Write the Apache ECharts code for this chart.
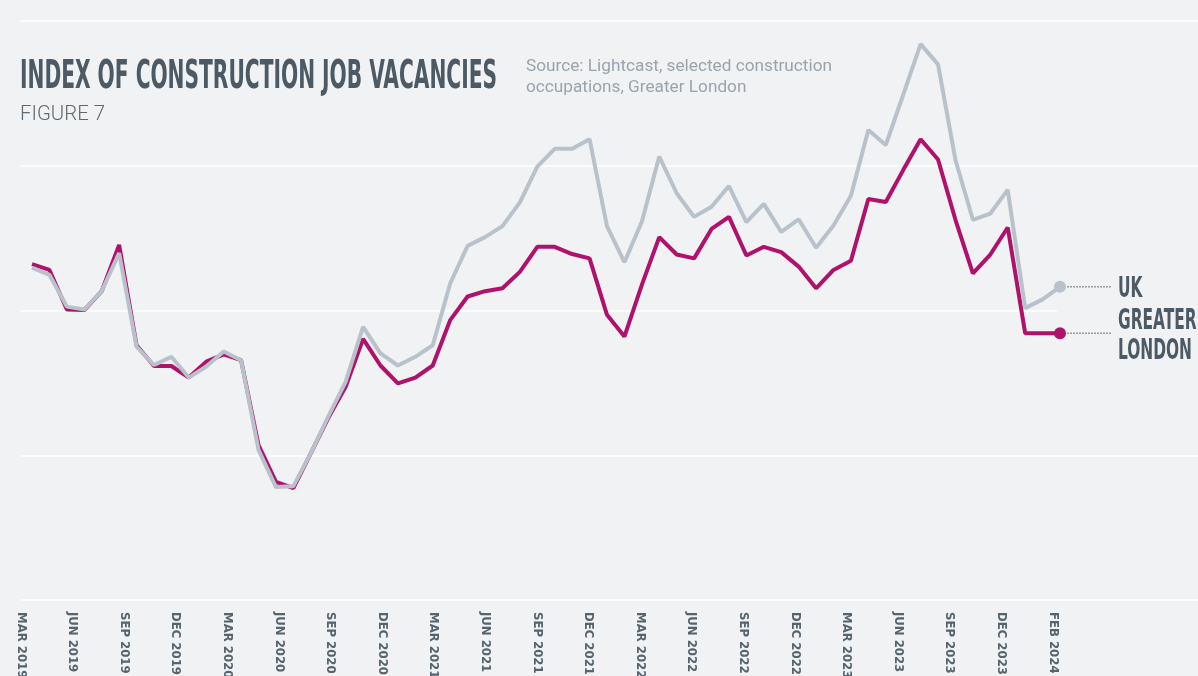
<!DOCTYPE html>
<html>
<head>
<meta charset="utf-8">
<script src="https://cdn.jsdelivr.net/npm/echarts@6/dist/echarts.min.js"></script>
<style>
  html, body { margin: 0; padding: 0; background: #f0f2f4; }
  #chart { width: 1198px; height: 676px; }
</style>
</head>
<body>
<div id="chart"></div>
<script>
// monthly index, Mar 2019 - Feb 2024
const months = [
  'Mar 2019', 'Apr 2019', 'May 2019', 'Jun 2019', 'Jul 2019', 'Aug 2019', 'Sep 2019', 'Oct 2019', 'Nov 2019', 'Dec 2019',
  'Jan 2020', 'Feb 2020', 'Mar 2020', 'Apr 2020', 'May 2020', 'Jun 2020', 'Jul 2020', 'Aug 2020', 'Sep 2020', 'Oct 2020',
  'Nov 2020', 'Dec 2020', 'Jan 2021', 'Feb 2021', 'Mar 2021', 'Apr 2021', 'May 2021', 'Jun 2021', 'Jul 2021', 'Aug 2021',
  'Sep 2021', 'Oct 2021', 'Nov 2021', 'Dec 2021', 'Jan 2022', 'Feb 2022', 'Mar 2022', 'Apr 2022', 'May 2022', 'Jun 2022',
  'Jul 2022', 'Aug 2022', 'Sep 2022', 'Oct 2022', 'Nov 2022', 'Dec 2022', 'Jan 2023', 'Feb 2023', 'Mar 2023', 'Apr 2023',
  'May 2023', 'Jun 2023', 'Jul 2023', 'Aug 2023', 'Sep 2023', 'Oct 2023', 'Nov 2023', 'Dec 2023', 'Jan 2024', 'Feb 2024'
];

// axis labels as printed (evenly spaced in the original)
const tickLabels = [
  'MAR 2019', 'JUN 2019', 'SEP 2019', 'DEC 2019', 'MAR 2020', 'JUN 2020', 'SEP 2020', 'DEC 2020',
  'MAR 2021', 'JUN 2021', 'SEP 2021', 'DEC 2021', 'MAR 2022', 'JUN 2022', 'SEP 2022', 'DEC 2022',
  'MAR 2023', 'JUN 2023', 'SEP 2023', 'DEC 2023', 'FEB 2024'
];

const ukValues = [
  108.9, 107.4, 100.8, 100.2, 104.0, 111.9, 92.5, 88.7, 90.4, 86.1,
  88.4, 91.5, 89.7, 71.1, 63.4, 63.6, 70.4, 78.0, 85.2, 96.6,
  91.1, 88.6, 90.4, 92.8, 105.6, 113.4, 115.2, 117.5, 122.4, 129.8,
  133.5, 133.5, 135.5, 117.5, 110.0, 118.4, 131.9, 124.3, 119.4, 121.5,
  125.8, 118.3, 122.1, 116.3, 118.9, 113.0, 117.6, 123.8, 137.4, 134.3,
  144.7, 155.2, 151.0, 131.2, 118.8, 120.1, 125.0, 100.5, 102.3, 104.9
];

const londonValues = [
  109.6, 108.4, 100.2, 100.1, 104.0, 113.6, 92.8, 88.5, 88.5, 86.1,
  89.4, 90.9, 89.7, 72.1, 64.5, 63.2, 70.4, 77.7, 84.2, 94.1,
  88.6, 84.9, 86.1, 88.6, 98.0, 102.9, 104.0, 104.6, 108.0, 113.2,
  113.2, 111.7, 110.8, 99.1, 94.6, 105.3, 115.2, 111.6, 110.8, 116.9,
  119.4, 111.4, 113.2, 112.1, 109.1, 104.6, 108.4, 110.3, 123.1, 122.5,
  129.1, 135.5, 131.3, 118.8, 107.7, 111.6, 117.2, 95.3, 95.3, 95.3
];

const ukColor = '#b9c2ca';
const londonColor = '#b0116b';
const bg = '#f0f2f4';
const ink = '#4b5a64';
const labelFont = '"Liberation Sans Narrow", "DejaVu Sans Condensed", sans-serif';

// squeeze text to a target width (the original uses a very condensed display face)
const measureCtx = document.createElement('canvas').getContext('2d');
function fitScale(text, font, width) {
  measureCtx.font = font;
  return width / measureCtx.measureText(text).width;
}

function lastItem(arr, color) {
  return arr.map((v, i) => i === arr.length - 1
    ? { value: v, symbol: 'circle', symbolSize: 12, itemStyle: { color: color } }
    : v);
}

const chart = echarts.init(document.getElementById('chart'));

chart.setOption({
  animation: false,
  backgroundColor: bg,
  grid: [
    { left: 32, right: 138, top: 21, bottom: 76, outerBoundsMode: 'none' },   // data
    { left: 21, right: 145, top: 21, bottom: 76, outerBoundsMode: 'none' },   // tick labels
    { left: 20, right: 0, top: 21, bottom: 76, outerBoundsMode: 'none' }      // gridlines
  ],
  xAxis: [
    { gridIndex: 0, type: 'category', data: months, boundaryGap: false, show: false },
    {
      gridIndex: 1, type: 'category', data: tickLabels, boundaryGap: false,
      axisLine: { show: false }, axisTick: { show: false },
      axisLabel: {
        rotate: -90, margin: 12, interval: 0,
        color: '#56646e', fontFamily: labelFont, fontWeight: 'bold', fontSize: 13
      }
    },
    { gridIndex: 2, type: 'category', show: false }
  ],
  yAxis: [
    { gridIndex: 0, type: 'value', min: 40, max: 160, show: false, splitLine: { show: false } },
    { gridIndex: 1, type: 'value', min: 40, max: 160, show: false, splitLine: { show: false } },
    {
      gridIndex: 2, type: 'value', min: 40, max: 160, interval: 30,
      axisLine: { show: false }, axisTick: { show: false }, axisLabel: { show: false },
      splitLine: { show: true, lineStyle: { color: '#ffffff', width: 1.5 } }
    }
  ],
  series: [
    {
      name: 'Greater London', type: 'line', xAxisIndex: 0, yAxisIndex: 0,
      data: lastItem(londonValues, londonColor),
      symbol: 'none', showAllSymbol: true,
      lineStyle: { color: londonColor, width: 4 },
      itemStyle: { color: londonColor },
      z: 3
    },
    {
      name: 'UK', type: 'line', xAxisIndex: 0, yAxisIndex: 0,
      data: lastItem(ukValues, ukColor),
      symbol: 'none', showAllSymbol: true,
      lineStyle: { color: ukColor, width: 4 },
      itemStyle: { color: ukColor },
      z: 4
    }
  ]
});

// header texts + end labels, placed after the scales exist
const last = months.length - 1;
const ukPt = chart.convertToPixel({ gridIndex: 0 }, [last, ukValues[last]]);
const ldPt = chart.convertToPixel({ gridIndex: 0 }, [last, londonValues[last]]);

const titleFont = 'bold 39px ' + labelFont;
const legendFont = 'bold 29px ' + labelFont;
const figFont = '300 20px Roboto, sans-serif';
const srcFont = '17px Roboto, sans-serif';

function txt(text, x, y, font, color, scaleX) {
  return {
    type: 'text', x: x, y: y, scaleX: scaleX || 1, z: 10,
    style: { text: text, x: 0, y: 0, font: font, fill: color, verticalAlign: 'middle', align: 'left' }
  };
}

const lgScale = fitScale('LONDON', legendFont, 74);
const labelX = 1118;

chart.setOption({
  graphic: [
    // the 3rd gridline stops short of the end labels
    { type: 'rect', z: 1, shape: { x: ldPt[0] - 3, y: ldPt[1] - 28, width: 200, height: 14 }, style: { fill: bg } },
    txt('INDEX OF CONSTRUCTION JOB VACANCIES', 20, 78, titleFont, ink,
        fitScale('INDEX OF CONSTRUCTION JOB VACANCIES', titleFont, 477)),
    txt('FIGURE 7', 20, 115, figFont, '#5d6870', fitScale('FIGURE 7', figFont, 85)),
    txt('Source: Lightcast, selected construction', 526, 67, srcFont, '#9ba3ab',
        fitScale('Source: Lightcast, selected construction', srcFont, 306)),
    txt('occupations, Greater London', 526, 88, srcFont, '#9ba3ab',
        fitScale('Source: Lightcast, selected construction', srcFont, 306)),
    {
      type: 'line', z: 10,
      shape: { x1: ukPt[0] + 7, y1: ukPt[1], x2: labelX - 6, y2: ukPt[1] },
      style: { stroke: '#6a7076', lineWidth: 1, lineDash: [2, 1] }
    },
    {
      type: 'line', z: 10,
      shape: { x1: ldPt[0] + 7, y1: ldPt[1], x2: labelX - 6, y2: ldPt[1] },
      style: { stroke: '#6a7076', lineWidth: 1, lineDash: [2, 1] }
    },
    txt('UK', labelX, ukPt[1] + 3, legendFont, ink, lgScale),
    txt('GREATER', labelX, ldPt[1] - 12, legendFont, ink, lgScale),
    txt('LONDON', labelX, ldPt[1] + 18, legendFont, ink, lgScale)
  ]
});
</script>
</body>
</html>
